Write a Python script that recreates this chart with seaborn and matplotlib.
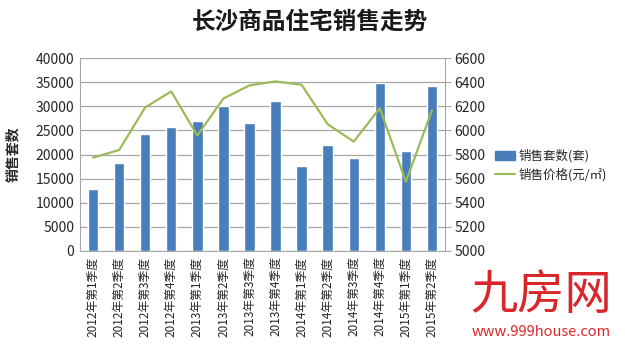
import matplotlib
matplotlib.use("Agg")
import matplotlib.pyplot as plt
import seaborn as sns
import pandas as pd
import numpy as np
from matplotlib.patches import Patch
from matplotlib.lines import Line2D

quarters = ["2012年第1季度", "2012年第2季度", "2012年第3季度", "2012年第4季度",
            "2013年第1季度", "2013年第2季度", "2013年第3季度", "2013年第4季度",
            "2014年第1季度", "2014年第2季度", "2014年第3季度", "2014年第4季度",
            "2015年第1季度", "2015年第2季度"]
units_sold = [12900, 18300, 24200, 25600, 27000, 30000, 26550, 31100,
              17700, 21900, 19300, 34900, 20700, 34250]
avg_price = [5774, 5837, 6190, 6323, 5957, 6264, 6373, 6406,
             6378, 6051, 5907, 6184, 5574, 6165]
left_ticks = [0, 5000, 10000, 15000, 20000, 25000, 30000, 35000, 40000]
right_ticks = [5000, 5200, 5400, 5600, 5800, 6000, 6200, 6400, 6600]

df = pd.DataFrame({"quarter": quarters, "units": units_sold, "price": avg_price})

sns.set_style("white")
plt.rcParams['font.family'] = ['Noto Sans CJK SC', 'DejaVu Sans']

BAR = "#4A7EBB"
LINE = "#9BBB59"
GRID = "#A6A6A6"
TXT = "#262626"

fig = plt.figure(figsize=(6.25, 3.48), dpi=100)
ax = fig.add_axes([80/625, 1-251/348, (445-80)/625, (251-58)/348])

sns.barplot(data=df, x="quarter", y="units", color=BAR, width=0.4,
            saturation=1, ax=ax, zorder=3)
ax.set_ylim(0, 40000)
ax.set_yticks(left_ticks)
ax.set_yticklabels([str(t) for t in left_ticks], fontsize=10, color=TXT)
ax.yaxis.grid(True, color=GRID, linewidth=0.9, zorder=0)
ax.set_axisbelow(True)
ax.set_xlabel("")
ax.set_ylabel("")
ax.tick_params(axis='x', labelrotation=90, labelsize=8.5, colors=TXT, length=0, pad=4)
ax.tick_params(axis='y', length=0, pad=4)
for s in ["left", "bottom"]:
    ax.spines[s].set_color(GRID)
ax.spines["top"].set_visible(False)
ax.spines["right"].set_visible(False)

ax2 = ax.twinx()
sns.lineplot(data=df, x="quarter", y="price", color=LINE, linewidth=1.6,
             ax=ax2, sort=False)
ax2.set_ylim(5000, 6600)
ax2.set_yticks(right_ticks)
ax2.set_yticklabels([str(t) for t in right_ticks], fontsize=10, color=TXT)
ax2.set_ylabel("")
ax2.tick_params(axis='y', length=4, color=GRID, pad=3)
ax2.spines["right"].set_color(GRID)
for s in ["top", "left", "bottom"]:
    ax2.spines[s].set_visible(False)
ax.set_xlim(-0.5, len(quarters) - 0.5)

fig.text(310/625, 1-22/348, "长沙商品住宅销售走势", ha="center", va="center",
         fontsize=17, fontweight="bold", color="#1a1a1a")
fig.text(13/625, 1-154/348, "销售套数", rotation=90, ha="center", va="center",
         fontsize=10, fontweight="bold", color=TXT)

handles = [Patch(facecolor=BAR, edgecolor=BAR),
           Line2D([0], [0], color=LINE, linewidth=1.6)]
fig.legend(handles, ["销售套数(套)", "销售价格(元/㎡)"], loc="upper left",
           bbox_to_anchor=(484/625, 1-138/348), frameon=False, fontsize=9,
           handlelength=1.6, handletextpad=0.3, labelspacing=0.4,
           labelcolor=TXT)

fig.text(541/625, 1-296/348, "九房网", ha="center", va="center",
         fontsize=34, color="#D9262B")
fig.text(541/625, 1-332/348, "www.999house.com", ha="center", va="center",
         fontsize=10.5, color="#D9262B")

fig.savefig("out.png", dpi=100)
